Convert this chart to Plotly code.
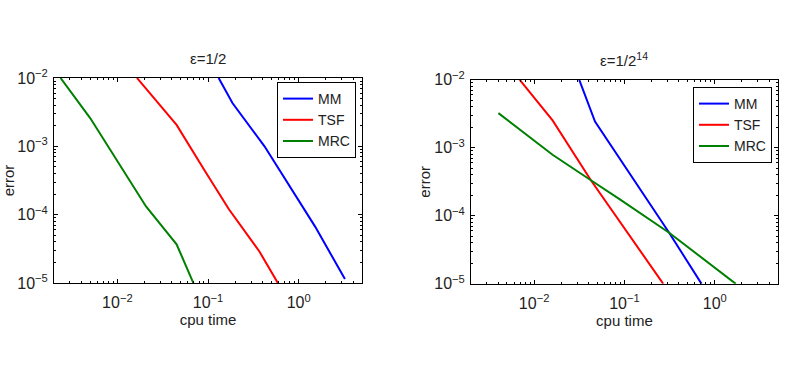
import plotly.graph_objects as go

# Left panel: eps = 1/2
l_mm_x = [0.131, 0.186, 0.42, 1.52, 3.24]
l_mm_y = [1e-2, 4.3e-3, 1.0e-3, 6.7e-5, 1.15e-5]
l_tsf_x = [0.01644, 0.045, 0.091, 0.170, 0.369, 0.59]
l_tsf_y = [1e-2, 2.06e-3, 4.5e-4, 1.2e-4, 2.9e-5, 1e-5]
l_mrc_x = [0.00236, 0.00503, 0.0207, 0.045, 0.069]
l_mrc_y = [1e-2, 2.57e-3, 1.32e-4, 3.7e-5, 1e-5]

# Right panel: eps = 1/2^14
r_mm_x = [0.0316, 0.0472, 0.3126, 0.714]
r_mm_y = [1e-2, 2.44e-3, 5.65e-5, 1e-5]
r_tsf_x = [0.00693, 0.016, 0.0425, 0.129, 0.269]
r_tsf_y = [1e-2, 2.53e-3, 3.34e-4, 4.1e-5, 1e-5]
r_mrc_x = [0.00402, 0.016, 0.0425, 0.0873, 0.3126, 1.71]
r_mrc_y = [3.24e-3, 7.9e-4, 3.34e-4, 1.78e-4, 5.65e-5, 1e-5]

names = ["MM", "TSF", "MRC"]
colors = ["#0000ff", "#ff0000", "#008000"]
titles = ["ε=1/2", "ε=1/2<sup>14</sup>"]

x_tickvals = [1e-2, 1e-1, 1e0]
x_ticktext = ["10<sup>−2</sup>", "10<sup>−1</sup>", "10<sup>0</sup>"]
y_tickvals = [1e-5, 1e-4, 1e-3, 1e-2]
y_ticktext = ["10<sup>−5</sup>", "10<sup>−4</sup>", "10<sup>−3</sup>", "10<sup>−2</sup>"]

x_minor = [m * 10.0 ** e for e in (-3, -2, -1, 0) for m in range(2, 10)
           if 0.002 <= m * 10.0 ** e <= 5]
y_minor = [m * 10.0 ** e for e in (-5, -4, -3) for m in range(2, 10)]

FONT = "Liberation Sans, Arial, sans-serif"
TXT = "#222"
fig = go.Figure()

left = [(l_mm_x, l_mm_y), (l_tsf_x, l_tsf_y), (l_mrc_x, l_mrc_y)]
right = [(r_mm_x, r_mm_y), (r_tsf_x, r_tsf_y), (r_mrc_x, r_mrc_y)]

for (xs, ys), n, c in zip(left, names, colors):
    fig.add_trace(go.Scatter(x=xs, y=ys, mode="lines", name=n,
                             line=dict(color=c, width=2),
                             xaxis="x", yaxis="y", legend="legend"))
for (xs, ys), n, c in zip(right, names, colors):
    fig.add_trace(go.Scatter(x=xs, y=ys, mode="lines", name=n,
                             line=dict(color=c, width=2),
                             xaxis="x2", yaxis="y2", legend="legend2"))

def xax(domain, anchor):
    return dict(type="log", range=[-2.699, 0.699], domain=domain, anchor=anchor,
                automargin=False,
                showgrid=False, zeroline=False, showline=True, linecolor="black",
                linewidth=1, mirror="allticks", ticks="inside", ticklen=4,
                tickcolor="black", tickmode="array", tickvals=x_tickvals,
                ticktext=x_ticktext, ticklabelstandoff=5,
                tickfont=dict(size=16, color=TXT, family=FONT),
                minor=dict(tickmode="array", tickvals=x_minor, ticks="inside",
                           ticklen=2, tickcolor="black", showgrid=False),
                title=dict(text="cpu time", font=dict(size=15, color=TXT, family=FONT),
                           standoff=1))

def yax(domain, anchor, standoff):
    return dict(type="log", range=[-5, -2], domain=domain, anchor=anchor,
                automargin=False,
                showgrid=False, zeroline=False, showline=True, linecolor="black",
                linewidth=1, mirror="allticks", ticks="inside", ticklen=4,
                tickcolor="black", tickmode="array", tickvals=y_tickvals,
                ticktext=y_ticktext, ticklabelstandoff=2,
                tickfont=dict(size=16, color=TXT, family=FONT),
                minor=dict(tickmode="array", tickvals=y_minor, ticks="inside",
                           ticklen=2, tickcolor="black", showgrid=False),
                title=dict(text="error", font=dict(size=15, color=TXT, family=FONT),
                           standoff=standoff))

legend_common = dict(bgcolor="white", bordercolor="black", borderwidth=1,
                     font=dict(size=14, color=TXT, family=FONT),
                     xanchor="right", yanchor="top", tracegroupgap=0,
                     itemwidth=30)

fig.update_layout(
    width=797, height=373,
    margin=dict(l=0, r=0, t=0, b=0),
    paper_bgcolor="white", plot_bgcolor="white",
    font=dict(family=FONT, color=TXT),
    xaxis=xax([0.0678, 0.4542], "y"),
    yaxis=yax([0.241, 0.791], "x", 2),
    xaxis2=xax([0.591, 0.976], "y2"),
    yaxis2=yax([0.239, 0.786], "x2", 0),
    legend=dict(x=0.4467, y=1 - 82 / 373, **legend_common),
    legend2=dict(x=0.9686, y=1 - 87 / 373, **legend_common),
    annotations=[
        dict(text=titles[0], x=208 / 797, y=1 - 58 / 373, xref="paper", yref="paper",
             xanchor="center", yanchor="middle",
             showarrow=False, font=dict(size=15, color=TXT, family=FONT)),
        dict(text=titles[1], x=624 / 797, y=1 - 59 / 373, xref="paper", yref="paper",
             xanchor="center", yanchor="middle",
             showarrow=False, font=dict(size=15, color=TXT, family=FONT)),
    ],
)

fig.write_html("out.html")
